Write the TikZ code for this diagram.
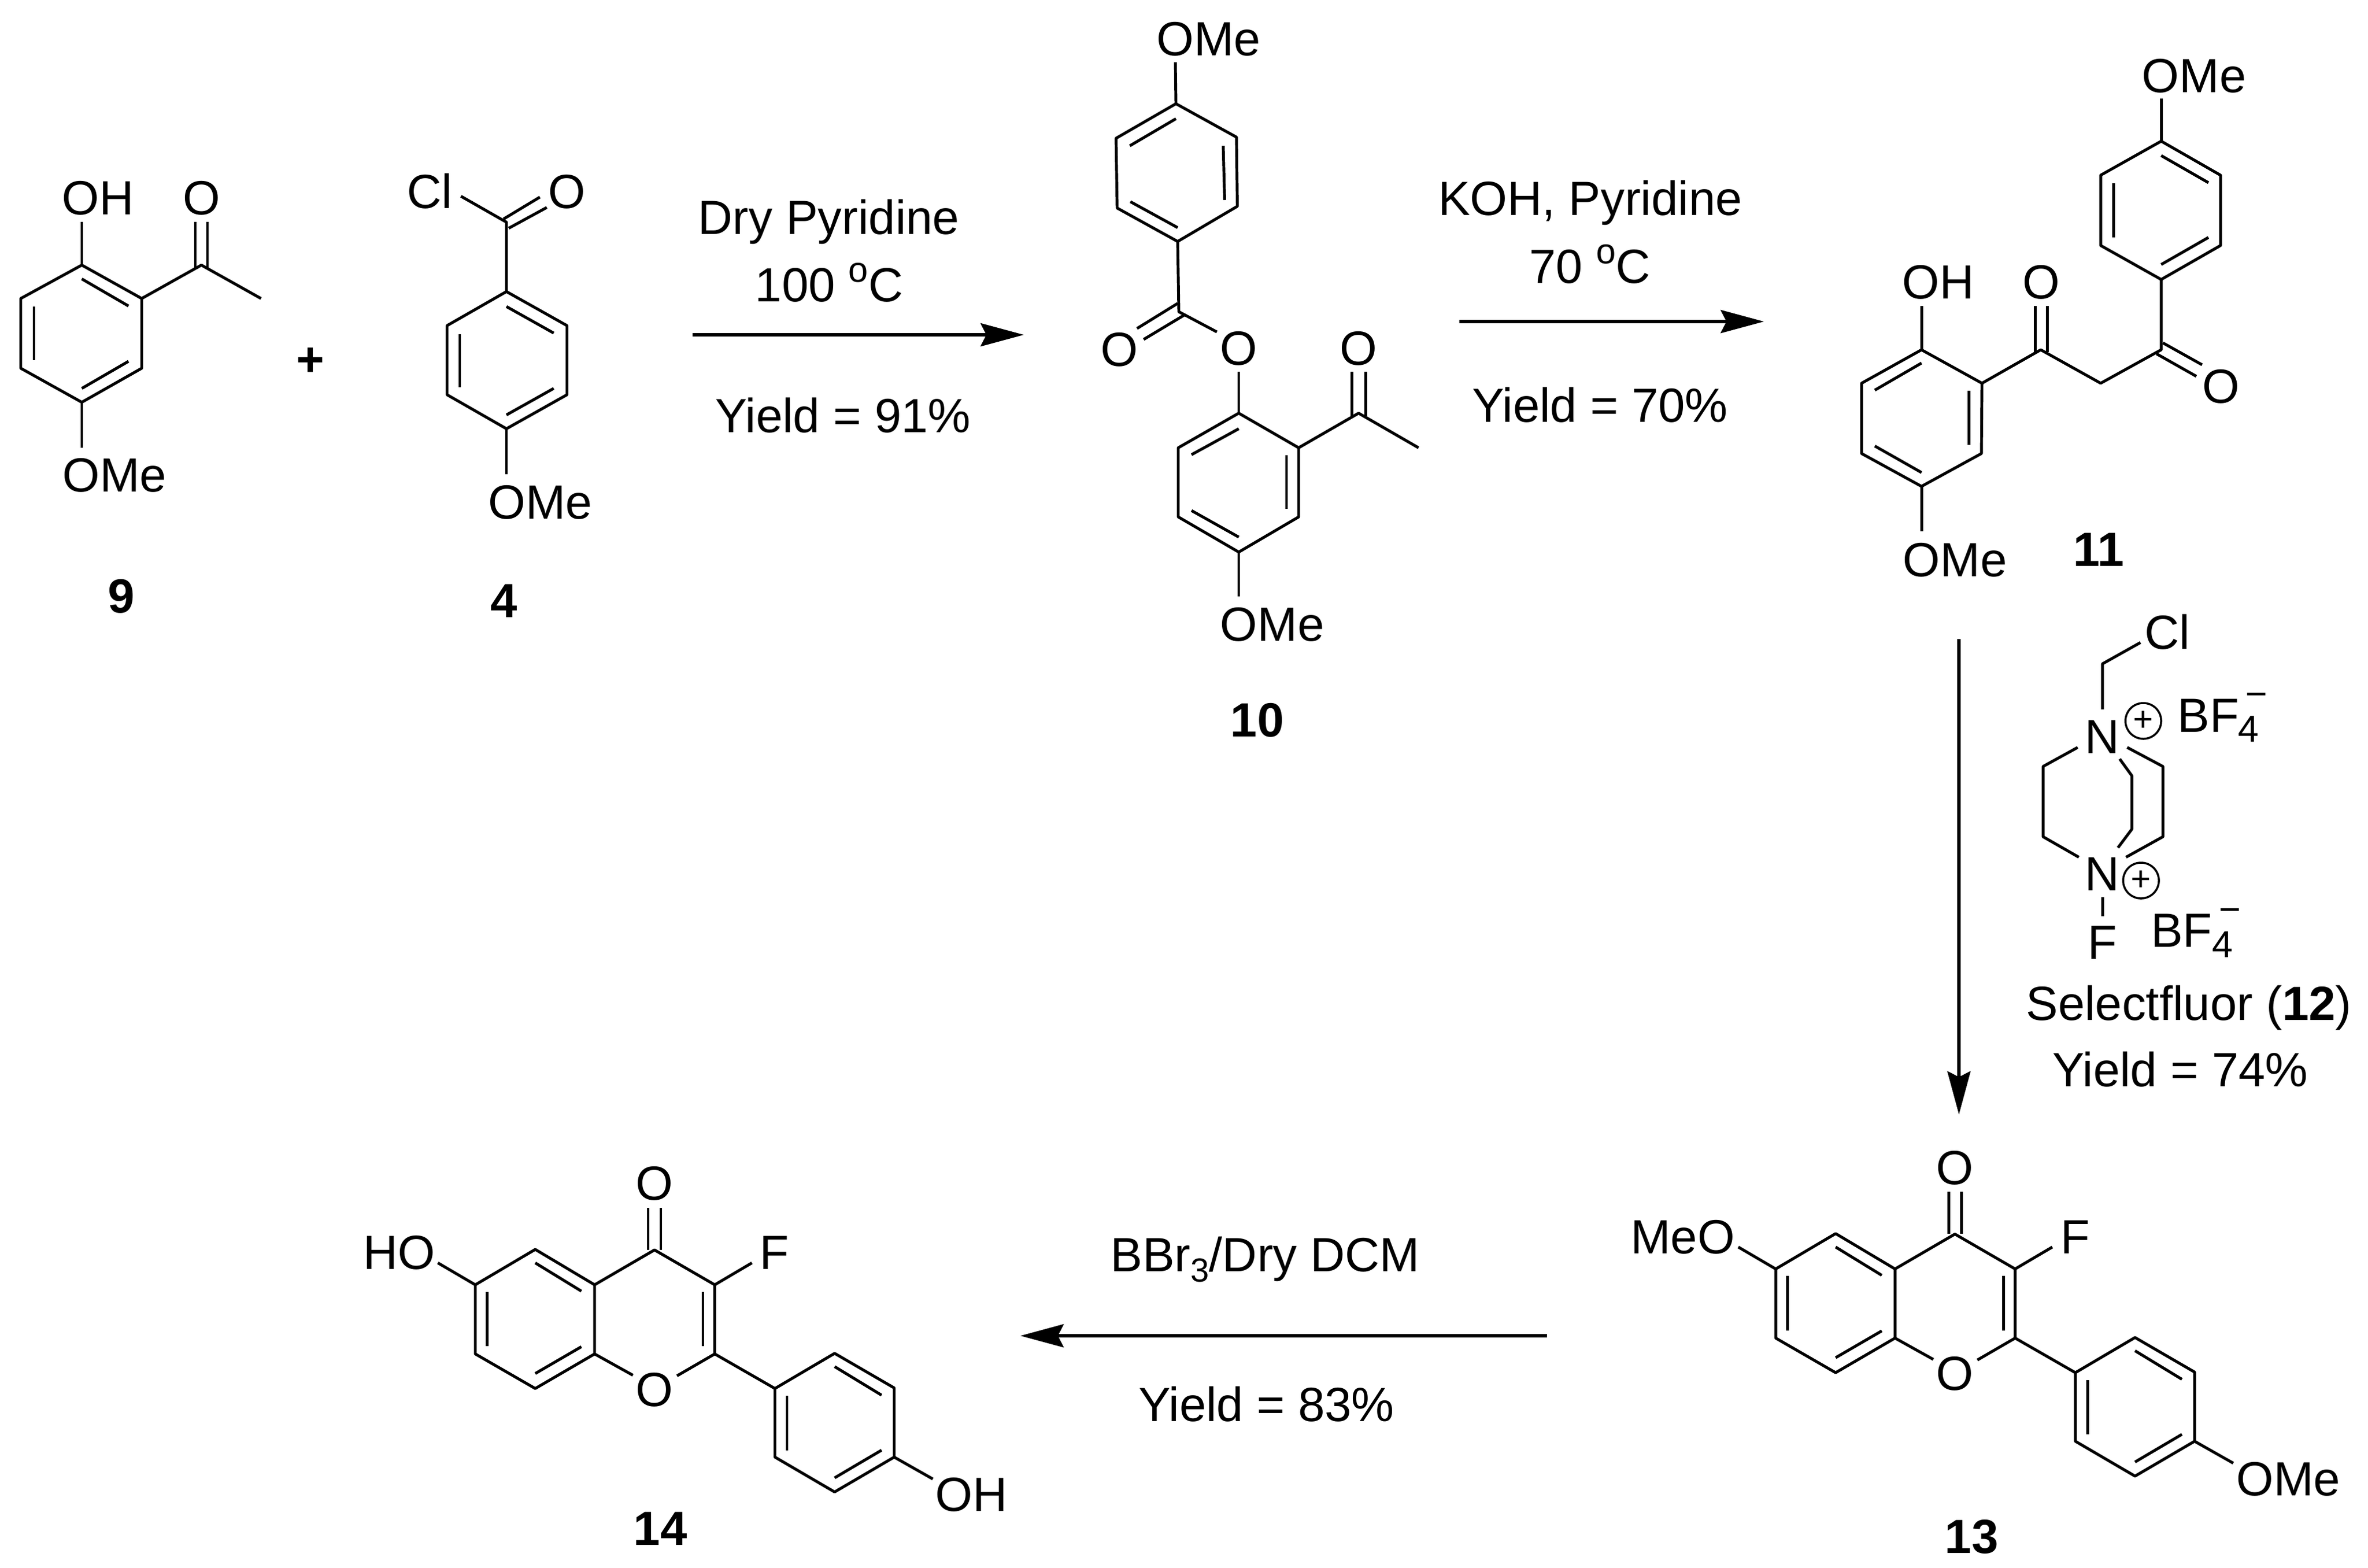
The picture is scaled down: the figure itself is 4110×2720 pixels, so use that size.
\documentclass[tikz,border=0pt]{standalone}
\usepackage{fontspec}
\setmainfont{Liberation Sans}
\usetikzlibrary{arrows.meta}
\newcommand\sbsc[1]{\raisebox{-0.22em}{\fontsize{16.5pt}{18pt}\selectfont #1}}
\newcommand\spsc[1]{\raisebox{0.40em}{\fontsize{17.5pt}{18pt}\selectfont #1}}
\newcommand\flavoneskel{%
  \draw[bond] (3382,2068) -- (3382,2141);
  \draw[bond] (3404,2068) -- (3404,2141);
  \draw[bond] (3355.5,2359) -- (3289,2322) -- (3289,2202) -- (3393,2141.5) -- (3497.5,2202) -- (3497.5,2322) -- (3432,2360);
  \draw[bond] (3289,2202) -- (3186,2140.6) -- (3082,2202) -- (3082,2322) -- (3186,2382) -- (3289,2322);
  \draw[bond] (3186,2164) -- (3266,2213);
  \draw[bond] (3102.4,2214) -- (3102.4,2308.5);
  \draw[bond] (3186,2356) -- (3266,2309.5);
  \draw[bond] (3477,2214) -- (3477,2308.5);
  \draw[bond] (3497.5,2202) -- (3562,2164);
  \draw[bond] (3082,2202) -- (3017,2164);
  \draw[bond] (3497.5,2322) -- (3602,2382);
  \draw[bond] (3602,2382) -- (3705.6,2321) -- (3809,2381) -- (3809,2501) -- (3705.6,2561.5) -- (3602,2501) -- cycle;
  \draw[bond] (3705.6,2344) -- (3787,2393.5);
  \draw[bond] (3623,2394.5) -- (3623,2489);
  \draw[bond] (3787,2489) -- (3705.6,2537);
  \draw[bond] (3809,2501) -- (3876,2539);
}
\tikzset{
  bond/.style={line width=1.4pt,line join=round},
  rxn/.style={line width=1.55pt,-{Stealth[length=0.75cm,width=0.40cm,inset=0.1cm]}},
  atom/.style={inner sep=0pt,outer sep=0pt,anchor=base,font=\fontsize{23.7pt}{28pt}\selectfont},
  cpd/.style={atom,font=\fontsize{23.7pt}{28pt}\selectfont\bfseries},
  small/.style={inner sep=0pt,outer sep=0pt,anchor=base,font=\fontsize{18.5pt}{22pt}\selectfont},
  charge/.style={circle,draw,line width=1pt,inner sep=0pt,outer sep=0pt,minimum size=0.62cm,font=\fontsize{17pt}{20pt}\selectfont},
}
\begin{document}
\begin{tikzpicture}[x=0.01cm,y=-0.01cm]
\useasboundingbox[fill=white] (0,0) rectangle (4110,2720);

% ---- 9
\draw[bond] (142,460) -- (246,518) -- (246,639) -- (142,698) -- (36,639) -- (36,518) -- cycle;
\draw[bond] (142,484) -- (223,531);
\draw[bond] (59,532) -- (59,625);
\draw[bond] (142,674) -- (223,627);
\draw[bond] (142,460) -- (142,385);
\draw[bond] (246,518) -- (349.5,460) -- (453,518);
\draw[bond] (339,385) -- (339,466);
\draw[bond] (360,385) -- (360,466);
\draw[bond] (142,698) -- (142,777);
\node[atom] (oh9) at (170,372) {OH};
\node[atom] (o9) at (349.5,372) {O};
\node[atom] (ome9) at (199,853) {OMe};
\node[cpd] (lab9) at (210.5,1063) {9};
\node[cpd] (plus) at (539,652) {+};

% ---- 4
\draw[bond] (879,506) -- (984,565) -- (984,685) -- (879,744) -- (776,685) -- (776,565) -- cycle;
\draw[bond] (879,532) -- (961,578);
\draw[bond] (798,580) -- (798,672);
\draw[bond] (879,720) -- (961,674);
\draw[bond] (879,506) -- (879,385.5) -- (800,340.5);
\draw[bond] (874,380) -- (937,342);
\draw[bond] (883,396) -- (949,360);
\draw[bond] (879,744) -- (879,823);
\node[atom] (cl4) at (745.5,361) {Cl};
\node[atom] (o4) at (984,361) {O};
\node[atom] (ome4) at (938,900) {OMe};
\node[cpd] (lab4) at (875,1071) {4};

% ---- arrow 1
\coordinate (a1s) at (1202,581);
\coordinate (a1e) at (1777,581);
\draw[rxn] (a1s) -- (a1e);
\node[atom] (t1a) at (1438.5,406) {Dry Pyridine};
\node[atom] (t1b) at (1439,523) {100 \spsc{o}C};
\node[atom] (t1c) at (1463,750) {Yield = 91\%};

% ---- 10
\draw[bond] (2041,180) -- (2146,238) -- (2147.5,358) -- (2044,419) -- (1939,361) -- (1937,240) -- cycle;
\draw[bond] (1961,253) -- (2041,206);
\draw[bond] (2123,253) -- (2125.5,347);
\draw[bond] (1962,350) -- (2044,395);
\draw[bond] (2041,180) -- (2040,108);
\draw[bond] (2044,419) -- (2046,541) -- (2112,576);
\draw[bond] (1973.5,570) -- (2044,526.5);
\draw[bond] (1985,589) -- (2055,547);
\draw[bond] (2150,645) -- (2150,717);
\draw[bond] (2150,717) -- (2254,777) -- (2254,897) -- (2150,958) -- (2045,897) -- (2045,777) -- cycle;
\draw[bond] (2068,789) -- (2150,744);
\draw[bond] (2233,790) -- (2233,883);
\draw[bond] (2068,886) -- (2150,932);
\draw[bond] (2254,777) -- (2358,717) -- (2462,777);
\draw[bond] (2346,645) -- (2346,722);
\draw[bond] (2370,645) -- (2370,722);
\draw[bond] (2150,958) -- (2150,1035);
\node[atom] (ome10a) at (2097.5,96) {OMe};
\node[atom] (o10a) at (1943,635) {O};
\node[atom] (o10b) at (2150,633) {O};
\node[atom] (o10c) at (2358,633) {O};
\node[atom] (ome10b) at (2208,1112) {OMe};
\node[cpd] (lab10) at (2182,1278) {10};

% ---- arrow 2
\coordinate (a2s) at (2533,558);
\coordinate (a2e) at (3061.5,558);
\draw[rxn] (a2s) -- (a2e);
\node[atom] (t2a) at (2760,373) {KOH, Pyridine};
\node[atom] (t2b) at (2759.5,491) {70 \spsc{o}C};
\node[atom] (t2c) at (2777,732) {Yield = 70\%};

% ---- 11
\draw[bond] (3751,245) -- (3854,304) -- (3854,426) -- (3751,485) -- (3646,426) -- (3646,304) -- cycle;
\draw[bond] (3751,270) -- (3833,317);
\draw[bond] (3668,318) -- (3668,412);
\draw[bond] (3751,459) -- (3833,412);
\draw[bond] (3751,245) -- (3751,171);
\draw[bond] (3751,485) -- (3751,607) -- (3646,665) -- (3542,607) -- (3440,665);
\draw[bond] (3754,595) -- (3822,633);
\draw[bond] (3743,614) -- (3812,653);
\draw[bond] (3532,531) -- (3532,611);
\draw[bond] (3553,531) -- (3553,611);
\draw[bond] (3335,607) -- (3440,665) -- (3439,787) -- (3335,844) -- (3231,787) -- (3231,665) -- cycle;
\draw[bond] (3254,677) -- (3335,630);
\draw[bond] (3417,678) -- (3417,772);
\draw[bond] (3254,774) -- (3335,820);
\draw[bond] (3335,607) -- (3335,531);
\draw[bond] (3335,844) -- (3335,922);
\node[atom] (ome11a) at (3808,160) {OMe};
\node[atom] (oh11) at (3364,518) {OH};
\node[atom] (o11a) at (3543,518) {O};
\node[atom] (o11b) at (3855,699) {O};
\node[atom] (ome11b) at (3393,1000) {OMe};
\node[cpd] (lab11) at (3642.5,982) {11};

% ---- arrow 3
\coordinate (a3s) at (3400,1109);
\coordinate (a3e) at (3400,1934);
\draw[rxn] (a3s) -- (a3e);

% ---- 12
\draw[bond] (3715,1115) -- (3649,1152) -- (3649,1231);
\draw[bond] (3606,1297) -- (3546,1330) -- (3546,1452) -- (3608,1487.5);
\draw[bond] (3679,1317) -- (3700,1346) -- (3700,1439) -- (3676,1471);
\draw[bond] (3692,1297) -- (3754,1330) -- (3754,1452) -- (3690,1487.5);
\draw[bond] (3649,1557) -- (3649,1590);
\node[atom] (cl12) at (3762,1126) {Cl};
\node[atom] (n12a) at (3649,1307) {N};
\node[charge] (pl12a) at (3720,1251) {+};
\node[atom] (bf12a) at (3833,1270) {BF};
\node[small] (four12a) at (3903,1287) {4};
\node[small] (min12a) at (3916,1226) {−};
\node[atom] (n12b) at (3649,1545) {N};
\node[charge] (pl12b) at (3716,1528) {+};
\node[atom] (f12) at (3649,1664) {F};
\node[atom] (bf12b) at (3786.5,1643) {BF};
\node[small] (four12b) at (3857.5,1661) {4};
\node[small] (min12b) at (3870,1600) {−};
\node[atom] (sf) at (3799,1770) {Selectfluor (\textbf{12})};
\node[atom] (t3) at (3784,1885) {Yield = 74\%};

% ---- 13
\flavoneskel
\node[atom] (o13a) at (3393,2055) {O};
\node[atom] (o13b) at (3393,2412) {O};
\node[atom] (f13) at (3602,2175) {F};
\node[atom] (meo13) at (2920.5,2175) {MeO};
\node[atom] (ome13) at (3971.5,2595) {OMe};
\node[cpd] (lab13) at (3422,2695) {13};

% ---- arrow 4
\coordinate (a4s) at (2685,2318);
\coordinate (a4e) at (1771,2318);
\draw[rxn] (a4s) -- (a4e);
\node[atom] (t4a) at (2196,2206) {BBr\sbsc{3}/Dry DCM};
\node[atom] (t4b) at (2198,2466) {Yield = 83\%};

% ---- 14
\begin{scope}[shift={(-2257,27.5)}]
\flavoneskel
\end{scope}
\node[atom] (o14a) at (1136,2082) {O};
\node[atom] (o14b) at (1136,2440) {O};
\node[atom] (f14) at (1344,2202) {F};
\node[atom] (ho14) at (692.5,2202) {HO};
\node[atom] (oh14) at (1686,2622) {OH};
\node[cpd] (lab14) at (1146,2681) {14};
\end{tikzpicture}
\end{document}
